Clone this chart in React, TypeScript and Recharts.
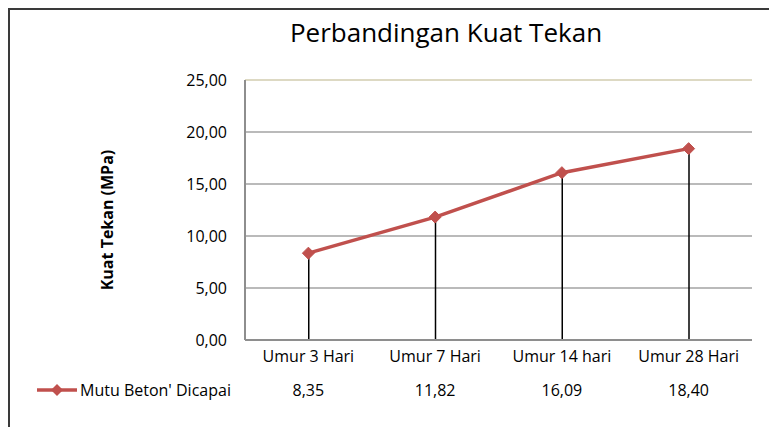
import React from 'react';
import { ComposedChart, Line, Bar, XAxis, YAxis, CartesianGrid, ReferenceLine, Legend } from 'recharts';

const categories = ['Umur 3 Hari', 'Umur 7 Hari', 'Umur 14 hari', 'Umur 28 Hari'];
const kuatTekan = [8.35, 11.82, 16.09, 18.4];
const yTicks = [0, 5, 10, 15, 20, 25];
const seriesName = "Mutu Beton' Dicapai";
const chartTitle = 'Perbandingan Kuat Tekan';
const yLabel = 'Kuat Tekan (MPa)';

const data = categories.map((c, i) => ({ name: c, value: kuatTekan[i], drop: kuatTekan[i] }));
const fmt = (v: number) => v.toFixed(2).replace('.', ',');

const RED = '#C0504D';
const FONT = "'Open Sans', 'Noto Sans', sans-serif";

const XTick = (props: any) => {
  const { x, y, payload, index } = props;
  const i = payload && typeof payload.index === 'number' ? payload.index : index;
  return (
    <g>
      <text x={x} y={y + 22} textAnchor="middle" fontSize={16} fill="#000" fontFamily={FONT}>
        {payload.value}
      </text>
      <text x={x} y={y + 56} textAnchor="middle" fontSize={16} fill="#000" fontFamily={FONT}>
        {fmt(kuatTekan[i])}
      </text>
    </g>
  );
};

const YLabel = (props: any) => {
  const vb = props.viewBox || {};
  const x = (vb.x || 0) + 97;
  const y = (vb.y || 0) + (vb.height || 0) / 2 + 10;
  return (
    <text
      x={x}
      y={y}
      transform={`rotate(-90 ${x} ${y})`}
      textAnchor="middle"
      dominantBaseline="central"
      fontSize={16}
      fontWeight="bold"
      fill="#000"
      fontFamily={FONT}
    >
      {yLabel}
    </text>
  );
};

const Diamond = (props: any) => {
  const { cx, cy } = props;
  if (cx == null || cy == null) return null;
  const r = 6;
  return (
    <polygon
      points={`${cx},${cy - r} ${cx + r},${cy} ${cx},${cy + r} ${cx - r},${cy}`}
      fill={RED}
      stroke={RED}
      strokeWidth={1}
    />
  );
};

const LegendContent = (props: any) => {
  const items = (props.payload || []).filter((p: any) => p.type !== 'none');
  return (
    <div style={{ display: 'flex', flexDirection: 'column' }}>
      {items.map((p: any) => (
        <div key={p.value} style={{ display: 'flex', alignItems: 'center', height: 20 }}>
          <svg width={43} height={14} style={{ display: 'block' }}>
            <line x1={0} y1={7} x2={40} y2={7} stroke={RED} strokeWidth={3.5} />
            <polygon points="20,1 26,7 20,13 14,7" fill={RED} />
          </svg>
          <span style={{ fontSize: 16, color: '#000', fontFamily: FONT, whiteSpace: 'nowrap' }}>{p.value}</span>
        </div>
      ))}
    </div>
  );
};

export default function App() {
  return (
    <div
      style={{
        position: 'relative',
        width: 769,
        height: 419,
        borderTop: '2px solid #3a3a3a',
        borderLeft: '2px solid #3a3a3a',
        boxSizing: 'border-box',
        overflow: 'hidden',
        fontFamily: FONT,
        background: '#fff',
      }}
    >
      <div
        style={{
          position: 'absolute',
          left: 136,
          top: 9,
          width: 600,
          textAlign: 'center',
          fontSize: 26,
          lineHeight: '26px',
          color: '#000',
          zIndex: 2,
        }}
      >
        {chartTitle}
      </div>
      <ComposedChart width={767} height={417} data={data} margin={{ top: 70, right: 25, bottom: 27, left: 0 }}>
        <CartesianGrid vertical={false} stroke="#A3A3A3" strokeWidth={1.5} />
        <ReferenceLine y={25} stroke="#DDD9C3" strokeWidth={2} />
        <XAxis
          dataKey="name"
          height={60}
          axisLine={{ stroke: '#8E8E8E', strokeWidth: 2 }}
          tickLine={false}
          tickSize={0}
          tickMargin={0}
          tick={<XTick />}
          interval={0}
        />
        <YAxis
          width={235}
          domain={[0, 25]}
          ticks={yTicks}
          tickFormatter={fmt}
          axisLine={{ stroke: '#8E8E8E', strokeWidth: 2 }}
          tickLine={false}
          tickSize={0}
          tickMargin={18}
          tick={{ fontSize: 16, fill: '#000', fontFamily: FONT }}
          label={<YLabel />}
        />
        <YAxis
          yAxisId="r"
          orientation="right"
          width={0}
          domain={[0, 25]}
          tick={false}
          tickLine={false}
          axisLine={{ stroke: '#DDD9C3', strokeWidth: 2 }}
        />
        <Bar dataKey="drop" barSize={1.5} fill="#000" legendType="none" isAnimationActive={false} />
        <Line
          dataKey="value"
          name={seriesName}
          stroke={RED}
          strokeWidth={3.5}
          dot={<Diamond />}
          activeDot={false}
          isAnimationActive={false}
        />
        <Legend
          layout="vertical"
          align="center"
          verticalAlign="middle"
          wrapperStyle={{ left: 27, top: 370, width: 260, height: 20 }}
          content={<LegendContent />}
        />
      </ComposedChart>
    </div>
  );
}
